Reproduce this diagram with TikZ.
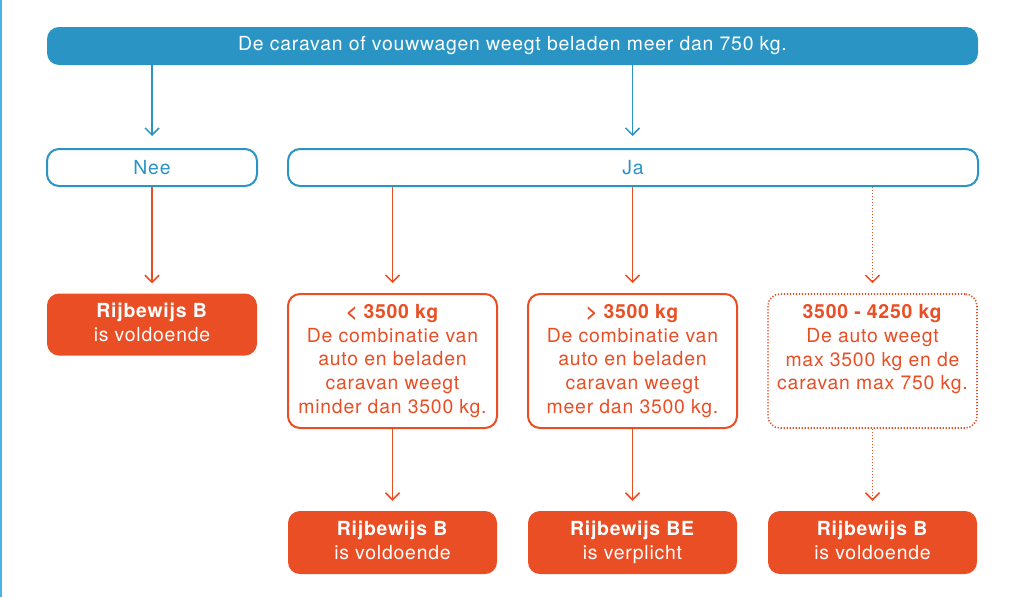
\documentclass[tikz,border=0pt]{standalone}
\usepackage{fontspec}
\setmainfont[LetterSpace=4.0]{TeX Gyre Heros}
\usetikzlibrary{arrows.meta}
\definecolor{cblue}{HTML}{2A95C5}
\definecolor{cline}{HTML}{4AB3E2}
\definecolor{corange}{HTML}{E94E25}
\tikzset{
  every node/.style={font=\fontsize{19.4}{23.8}\selectfont, align=center, inner sep=0pt},
  topbar/.style={rectangle, rounded corners=12pt, fill=cblue, text=white, minimum width=931pt, minimum height=38pt},
  answer/.style={rectangle, rounded corners=12pt, draw=cblue, line width=2pt, text=cblue, minimum height=37pt},
  result/.style={rectangle, rounded corners=12pt, fill=corange, text=white, minimum width=210pt, minimum height=62pt},
  condbox/.style={rectangle, rounded corners=12pt, draw=corange, line width=2pt, text=corange, minimum width=209pt, minimum height=134pt},
  dotbox/.style={condbox, line width=1.6pt, dash pattern=on 1.2pt off 1.8pt},
  barrow/.style={draw=cblue, line width=1.5pt, -{Straight Barb[length=7pt,width=14pt,line width=1.5pt]}, shorten >=12pt},
  oarrow/.style={draw=corange, line width=1.5pt, -{Straight Barb[length=7pt,width=14pt,line width=1.5pt]}, shorten >=10pt},
  odotarrow/.style={oarrow, line width=1.6pt, dash pattern=on 1.2pt off 1.8pt},
}
\newcommand{\dpt}{\rule[-4pt]{0pt}{4pt}}
\begin{document}
\begin{tikzpicture}[x=1pt,y=-1pt]
\useasboundingbox (0,0) rectangle (1024,597);
\fill[white] (0,0) rectangle (1024,597);
\fill[cline] (0,0) rectangle (2.2,597);

\node[topbar] (top) at (512.5,46) {De caravan of vouwwagen weegt beladen meer dan 750 kg.};
\node[answer, minimum width=210pt] (nee) at (152,167.5) {Nee};
\node[answer, minimum width=690pt] (ja) at (633,167.5) {Ja};

\node[result] (rb1) at (152,324.5) {\textbf{Rijbewijs B}\\is voldoende\dpt};

\node[condbox] (m1) at (392.5,361) {\textbf{< 3500 kg}\\De combinatie van\\auto en beladen\\caravan weegt\\minder dan 3500 kg.};
\node[condbox] (m2) at (632.5,361) {\textbf{> 3500 kg}\\De combinatie van\\auto en beladen\\caravan weegt\\meer dan 3500 kg.};
\node[dotbox] (m3) at (872.5,361) {\textbf{3500 - 4250 kg}\\De auto weegt\\max 3500 kg en de\\caravan max 750 kg.\\\dpt};

\node[result, minimum width=209pt, minimum height=63pt] (b1) at (392.5,542.5) {\textbf{Rijbewijs B}\\is voldoende\dpt};
\node[result, minimum width=209pt, minimum height=63pt] (b2) at (632.5,542.5) {\textbf{Rijbewijs BE}\\is verplicht\dpt};
\node[result, minimum width=209pt, minimum height=63pt] (b3) at (872.5,542.5) {\textbf{Rijbewijs B}\\is voldoende\dpt};

\draw[barrow] (top.south -| nee.north) -- (nee.north);
\draw[barrow] (top.south -| m2.north) -- (ja.north -| m2.north);

\draw[oarrow] (nee.south) -- (rb1.north);
\draw[oarrow] (ja.south -| m1.north) -- (m1.north);
\draw[oarrow] (ja.south -| m2.north) -- (m2.north);
\draw[odotarrow] (ja.south -| m3.north) -- (m3.north);

\draw[oarrow] (m1.south) -- (b1.north);
\draw[oarrow] (m2.south) -- (b2.north);
\draw[odotarrow] (m3.south) -- (b3.north);
\end{tikzpicture}
\end{document}
